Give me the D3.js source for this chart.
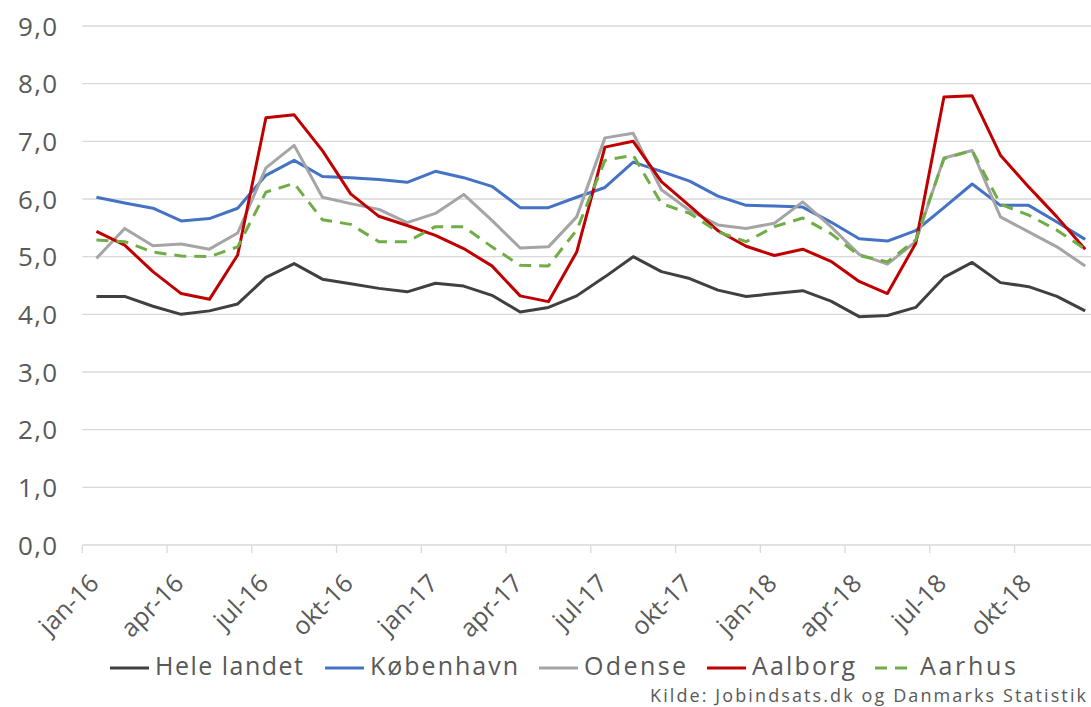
<!DOCTYPE html>
<html>
<head>
<meta charset="utf-8">
<script src="https://cdn.jsdelivr.net/npm/d3@7"></script>
<style>
  html, body { margin: 0; padding: 0; background: #fff; }
  svg { display: block; }
  text { font-family: "Open Sans", "DejaVu Sans", sans-serif; fill: #595959; }
</style>
</head>
<body>
<svg id="chart" width="1091" height="707"></svg>
<script>
// ---- data ----
const monthNames = ["jan","feb","mar","apr","maj","jun","jul","aug","sep","okt","nov","dec"];
const years = ["16","17","18"];
const months = [];
years.forEach(y => monthNames.forEach(m => months.push(m + "-" + y)));
const tickLabels = ["jan-16","apr-16","jul-16","okt-16","jan-17","apr-17","jul-17","okt-17","jan-18","apr-18","jul-18","okt-18"];
const yTicks = [0,1,2,3,4,5,6,7,8,9];

const seriesNames = ["Hele landet","København","Odense","Aalborg","Aarhus"];
const heleLandet = [4.31,4.31,4.14,4.00,4.06,4.18,4.64,4.88,4.61,4.53,4.45,4.39,
                    4.54,4.49,4.33,4.04,4.12,4.32,4.65,5.00,4.74,4.62,4.42,4.31,
                    4.36,4.41,4.23,3.96,3.98,4.12,4.64,4.90,4.55,4.48,4.31,4.06];
const koebenhavn = [6.03,5.93,5.84,5.62,5.66,5.84,6.41,6.67,6.39,6.37,6.34,6.29,
                    6.48,6.37,6.22,5.85,5.85,6.03,6.20,6.64,6.48,6.31,6.05,5.89,
                    5.88,5.86,5.60,5.31,5.27,5.45,5.85,6.26,5.89,5.89,5.60,5.30];
const odense     = [4.97,5.49,5.19,5.22,5.13,5.41,6.54,6.93,6.03,5.92,5.82,5.59,
                    5.75,6.08,5.63,5.15,5.17,5.69,7.06,7.14,6.16,5.80,5.55,5.49,
                    5.58,5.95,5.52,5.04,4.87,5.26,6.71,6.84,5.69,5.43,5.17,4.84];
const aalborg    = [5.44,5.20,4.74,4.36,4.26,5.03,7.41,7.46,6.84,6.09,5.70,5.54,
                    5.37,5.14,4.84,4.32,4.22,5.08,6.90,7.00,6.30,5.88,5.45,5.18,
                    5.02,5.13,4.92,4.57,4.36,5.23,7.77,7.79,6.76,6.21,5.69,5.13];
const aarhus     = [5.29,5.26,5.08,5.01,5.00,5.17,6.12,6.27,5.64,5.56,5.26,5.26,
                    5.52,5.52,5.17,4.85,4.84,5.46,6.67,6.76,5.92,5.75,5.43,5.26,
                    5.52,5.67,5.40,5.02,4.91,5.29,6.70,6.84,5.91,5.72,5.46,5.13];
const seriesColors = ["#404040","#4472C4","#A5A5A5","#C00000","#70AD47"];
const seriesDash = [null,null,null,null,"12,8"];
const sourceText = "Kilde:  Jobindsats.dk og Danmarks Statistik";

const seriesValues = [heleLandet, koebenhavn, odense, aalborg, aarhus];

// ---- layout ----
const svg = d3.select("#chart");
const x = d3.scaleBand().domain(months).range([82.3, 1099.3]).padding(0);
const y = d3.scaleLinear().domain([0, 9]).range([545, 26]);

// gridlines
svg.append("g").selectAll("line").data(yTicks.filter(d => d > 0)).join("line")
  .attr("x1", 82.3).attr("x2", 1091)
  .attr("y1", d => y(d)).attr("y2", d => y(d))
  .attr("stroke", "#d9d9d9").attr("stroke-width", 1.3);

// y labels
const yAxis = d3.axisLeft(y).tickValues(yTicks).tickSize(0).tickPadding(0)
  .tickFormat(d => d3.format(".1f")(d).replace(".", ","));
const gy = svg.append("g").attr("transform", "translate(57,0)").call(yAxis);
gy.select(".domain").remove();
gy.selectAll("text").attr("font-size", 26).attr("fill", "#595959")
  .attr("font-family", "'Open Sans', sans-serif").attr("dy", "0.35em")
  .attr("textLength", 39).attr("lengthAdjust", "spacing");

// x axis
const tickMonths = months.filter(m => tickLabels.includes(m));
const xAxis = d3.axisBottom(x).tickValues(tickMonths).tickSize(8).tickFormat(d => d);
const gx = svg.append("g").attr("transform", "translate(0,545)").call(xAxis);
gx.select(".domain").attr("stroke", "#d9d9d9").attr("stroke-width", 1.3)
  .attr("d", "M82.3,0H1091");
gx.selectAll(".tick").attr("transform", d => `translate(${x(d)},0)`);
gx.selectAll(".tick line").attr("stroke", "#d9d9d9").attr("stroke-width", 1.3);
gx.selectAll(".tick text")
  .attr("font-size", 25).attr("fill", "#595959")
  .attr("font-family", "'Open Sans', sans-serif")
  .attr("text-anchor", "end").attr("dy", 0).attr("y", 0)
  .attr("transform", "translate(18,40) rotate(-45)");

// lines
const line = d3.line().x((d, i) => x(months[i]) + x.bandwidth() / 2).y(d => y(d));
svg.append("g").selectAll("path").data(seriesValues).join("path")
  .attr("d", d => line(d))
  .attr("fill", "none")
  .attr("stroke", (d, i) => seriesColors[i])
  .attr("stroke-width", 3)
  .attr("stroke-linejoin", "round")
  .attr("stroke-dasharray", (d, i) => seriesDash[i]);

// legend
const legendX = [110, 325, 539, 707, 875];
const legendW = [148, 148, 102, 103, 96];
const lg = svg.append("g");
seriesNames.forEach((name, i) => {
  lg.append("line").attr("x1", legendX[i]).attr("x2", legendX[i] + 39)
    .attr("y1", 668).attr("y2", 668)
    .attr("stroke", seriesColors[i]).attr("stroke-width", 3)
    .attr("stroke-dasharray", seriesDash[i]);
  lg.append("text").attr("x", legendX[i] + 45).attr("y", 666).attr("dy", "0.35em")
    .attr("font-size", 25).attr("textLength", legendW[i]).attr("lengthAdjust", "spacing")
    .text(name);
});

// source
svg.append("text").attr("x", 650).attr("y", 702)
  .attr("font-size", 18).attr("textLength", 436).attr("lengthAdjust", "spacing")
  .text(sourceText);
</script>
</body>
</html>
